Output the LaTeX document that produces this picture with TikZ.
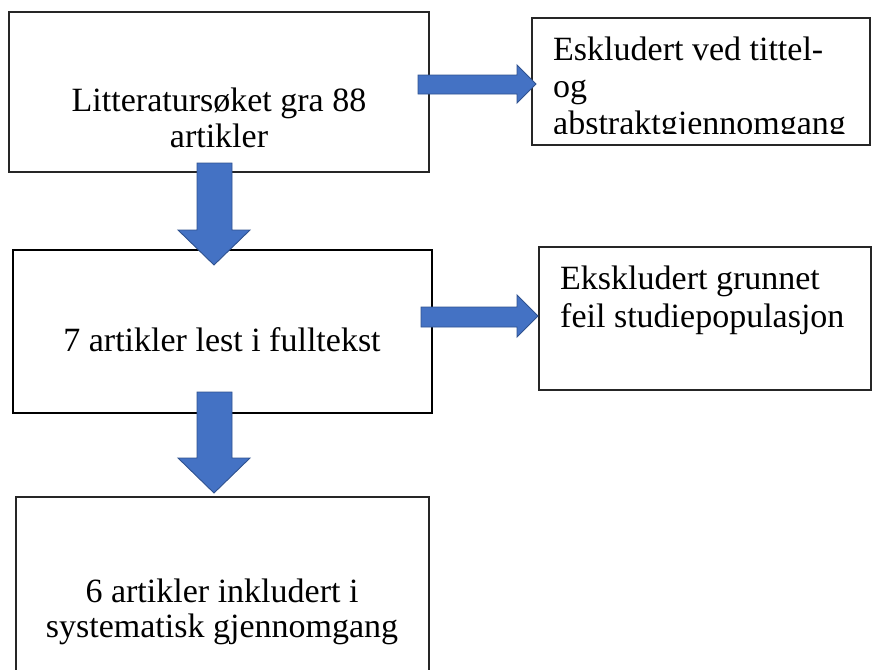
\documentclass[tikz,border=0pt]{standalone}
\usepackage{fontspec}
\setmainfont{Liberation Serif}
\definecolor{arrowfill}{HTML}{4472C4}
\definecolor{arrowline}{HTML}{2F528F}
\definecolor{boxline}{HTML}{262626}
\begin{document}
\begin{tikzpicture}[x=1pt,y=-1pt,
  box/.style={draw=boxline,line width=1.1pt,rectangle,inner sep=0pt},
  thickbox/.style={draw=black,line width=2.2pt,rectangle,inner sep=0pt},
  txt/.style={inner sep=0pt,anchor=base,font=\fontsize{34}{36}\selectfont},
  ltxt/.style={inner sep=0pt,anchor=base west,font=\fontsize{34}{36}\selectfont},
  blockarrow/.style={fill=arrowfill,draw=arrowline,line width=0.9pt,line join=miter}]
\useasboundingbox (0,0) rectangle (872,669);
\clip (0,0) rectangle (872,669);
% boxes
\node[box,minimum width=420,minimum height=160] (b1) at (219,92) {};
\node[box,minimum width=338,minimum height=127] (b2) at (701,81.5) {};
\node[thickbox,minimum width=419,minimum height=163] (b3) at (222.5,331.5) {};
\node[box,minimum width=332,minimum height=143] (b4) at (705,318.5) {};
\node[box,minimum width=413,minimum height=180] (b5) at (222.5,587) {};
% texts
\node[txt] (t1a) at (219,111) {Litteratursøket gra 88};
\node[txt] (t1b) at (219,147) {artikler};
\begin{scope}
\clip (532,18) rectangle (870,133.5);
\node[ltxt] (t2a) at (553,60) {Eskludert ved tittel-};
\node[ltxt] (t2b) at (553,97) {og};
\node[ltxt] (t2c) at (553,134) {abstraktgjennomgang};
\end{scope}
\node[txt] (t3) at (222,351) {7 artikler lest i fulltekst};
\node[ltxt] (t4a) at (560,289) {Ekskludert grunnet};
\node[ltxt] (t4b) at (560,327) {feil studiepopulasjon};
\node[txt] (t5a) at (222,602) {6 artikler inkludert i};
\node[txt] (t5b) at (222,637) {systematisk gjennomgang};
% block arrows
\draw[blockarrow] (418,75) -- (517,75) -- (517,65) -- (536,84) -- (517,103) -- (517,94) -- (418,94) -- cycle;
\draw[blockarrow] (421,307) -- (517,307) -- (517,295) -- (538,316) -- (517,337) -- (517,327) -- (421,327) -- cycle;
\draw[blockarrow] (197,163) -- (232,163) -- (232,230) -- (250,230) -- (214,265) -- (178,230) -- (197,230) -- cycle;
\draw[blockarrow] (197,392) -- (232,392) -- (232,458) -- (250,458) -- (214,493) -- (178,458) -- (197,458) -- cycle;
\end{tikzpicture}
\end{document}
